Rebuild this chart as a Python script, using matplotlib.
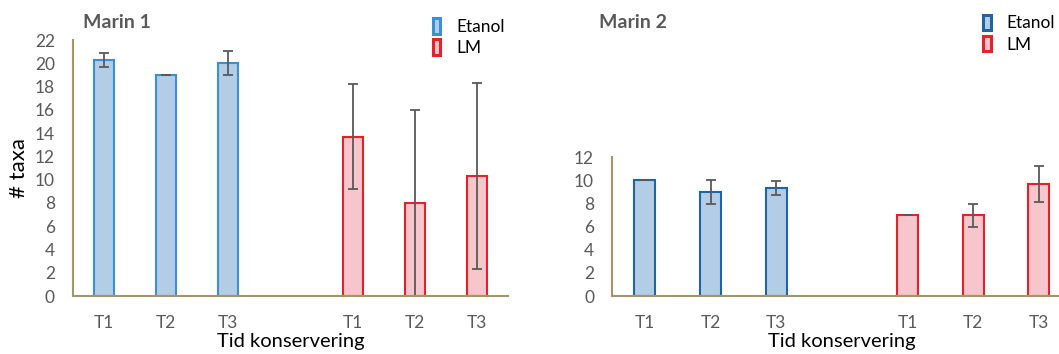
import matplotlib.pyplot as plt
from matplotlib.patches import Patch

plt.rcParams['font.family'] = ['Lato', 'DejaVu Sans']

labels = ['T1', 'T2', 'T3', 'T1', 'T2', 'T3']
pos_et = [0, 1, 2]
pos_lm = [4, 5, 6]

# Marin 1
m1_et = [20.3, 19.0, 20.0]
m1_et_err = [0.6, 0.0, 1.05]
m1_lm = [13.7, 8.0, 10.3]
m1_lm_err = [4.5, 8.0, 8.0]

# Marin 2
m2_et = [10.0, 9.0, 9.33]
m2_et_err = [0.0, 1.0, 0.58]
m2_lm = [7.0, 7.0, 9.67]
m2_lm_err = [0.0, 1.0, 1.55]

et_fill = '#b3cde6'
lm_fill = '#f7c6cc'
lm_edge = '#e8202a'
spine_col = '#a4956a'
gray = '#595959'

fig = plt.figure(figsize=(10.59, 3.54), dpi=100)


def panel(rect, et, et_err, lm, lm_err, ymax, title, et_edge, title_x, leg_x, leg_y):
    ax = fig.add_axes(rect)
    ax.bar(pos_et, et, width=0.32, color=et_fill, edgecolor=et_edge, linewidth=1.5,
           yerr=et_err, capsize=3.5, error_kw=dict(ecolor=gray, elinewidth=1.3, capthick=1.3))
    ax.bar(pos_lm, lm, width=0.32, color=lm_fill, edgecolor=lm_edge, linewidth=1.5,
           yerr=lm_err, capsize=3.5, error_kw=dict(ecolor=gray, elinewidth=1.3, capthick=1.3))
    ax.set_xlim(-0.5, 6.5)
    ax.set_ylim(0, ymax)
    ax.set_yticks(range(0, ymax + 1, 2))
    ax.set_xticks(pos_et + pos_lm)
    ax.set_xticklabels(labels)
    ax.tick_params(axis='y', length=0, pad=13, labelsize=12.5, labelcolor=gray)
    ax.tick_params(axis='x', length=0, pad=14, labelsize=12.5, labelcolor=gray)
    for s in ['top', 'right']:
        ax.spines[s].set_visible(False)
    for s in ['left', 'bottom']:
        ax.spines[s].set_color(spine_col)
        ax.spines[s].set_linewidth(1.5)
    ax.set_xlabel('Tid konservering', fontsize=14.5, labelpad=1)
    fig.text(title_x, 0.937, title, fontsize=14, fontweight='bold', color=gray,
             va='center', ha='left')
    handles = [Patch(facecolor=et_fill, edgecolor=et_edge, linewidth=2.2, label='Etanol'),
               Patch(facecolor=lm_fill, edgecolor=lm_edge, linewidth=2.2, label='LM')]
    fig.legend(handles=handles, loc='upper left', bbox_to_anchor=(leg_x, leg_y),
               frameon=False, fontsize=12.5, handlelength=0.45, handleheight=1.0,
               handletextpad=0.9, labelspacing=0.25, borderaxespad=0)
    return ax


ax1 = panel([0.0689, 0.1638, 0.4108, 0.7232], m1_et, m1_et_err, m1_lm, m1_lm_err, 22,
            'Marin 1', '#3a8fd6', 0.078, 0.402, 0.968)
ax1.set_ylabel('# taxa', fontsize=16, labelpad=4)
ax2 = panel([0.578, 0.1638, 0.434, 0.3918], m2_et, m2_et_err, m2_lm, m2_lm_err, 12,
            'Marin 2', '#1f65a6', 0.566, 0.922, 0.978)

fig.savefig('out.png', dpi=100)
